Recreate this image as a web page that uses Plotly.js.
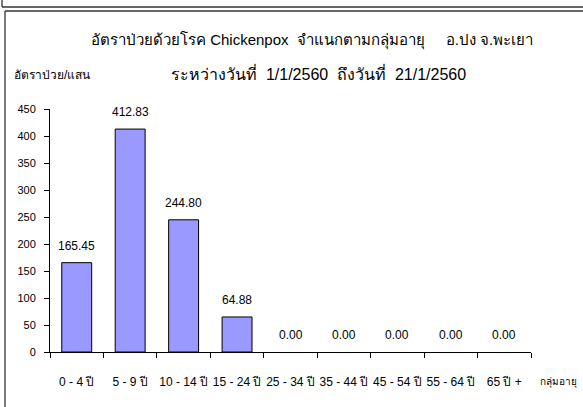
<!DOCTYPE html>
<html><head><meta charset="utf-8">
<script src="https://cdn.plot.ly/plotly-3.0.1.min.js"></script>
<style>body{margin:0;padding:0;background:#fff}#chart{width:583px;height:407px}</style>
</head><body><div id="chart"></div>
<script>
const categories = ["0 - 4 ปี","5 - 9 ปี","10 - 14 ปี","15 - 24 ปี","25 - 34 ปี","35 - 44 ปี","45 - 54 ปี","55 - 64 ปี","65 ปี +"];
const rates = [165.45, 412.83, 244.80, 64.88, 0, 0, 0, 0, 0];
const titleLine1 = "อัตราป่วยด้วยโรค Chickenpox  จำแนกตามกลุ่มอายุ     อ.ปง จ.พะเยา";
const titleLine2 = "ระหว่างวันที่  1/1/2560  ถึงวันที่  21/1/2560";
const yTitle = "อัตราป่วย/แสน";
const xTitle = "กลุ่มอายุ";
const yTicks = [0,50,100,150,200,250,300,350,400,450];

const W=583,H=407,L=50,R=52,T=109,B=55;
const pw=W-L-R, ph=H-T-B;
const px = x => (x-L)/pw;
const py = y => (H-B-y)/ph;
const FONT = "'Liberation Sans', Arial, sans-serif";

const annotations = categories.map((c,i)=>({
  x:c, y:rates[i], xref:'x', yref:'y', text:rates[i].toFixed(2),
  showarrow:false, yanchor:'middle', yshift:17, font:{size:12,color:'#000',family:FONT}
}));
annotations.push({x:px(312),y:py(40),xref:'paper',yref:'paper',text:titleLine1,showarrow:false,xanchor:'center',yanchor:'middle',font:{size:15,color:'#000',family:FONT}});
annotations.push({x:px(318),y:py(73),xref:'paper',yref:'paper',text:titleLine2,showarrow:false,xanchor:'center',yanchor:'middle',font:{size:16,color:'#000',family:FONT}});
annotations.push({x:px(12),y:py(75),xref:'paper',yref:'paper',text:yTitle,showarrow:false,xanchor:'left',yanchor:'middle',font:{size:12,color:'#000',family:FONT}});
annotations.push({x:px(538),y:py(382),xref:'paper',yref:'paper',text:xTitle,showarrow:false,xanchor:'left',yanchor:'middle',font:{size:10,color:'#000',family:FONT}});

const lineStyle={color:'#333',width:1.3};
const shapes=[
  {type:'line',xref:'paper',yref:'paper',x0:px(2),x1:px(2),y0:py(0),y1:py(7),line:lineStyle},
  {type:'line',xref:'paper',yref:'paper',x0:px(2),x1:px(590),y0:py(7),y1:py(7),line:lineStyle},
  {type:'line',xref:'paper',yref:'paper',x0:px(5),x1:px(590),y0:py(11),y1:py(11),line:lineStyle},
  {type:'line',xref:'paper',yref:'paper',x0:px(5),x1:px(5),y0:py(11),y1:py(410),line:lineStyle}
];

Plotly.newPlot('chart',[{
  type:'bar', x:categories, y:rates,
  marker:{color:'#9999FF', line:{color:'#000',width:rates.map(v=>v>0?1:0)}},
  hoverinfo:'none'
}],{
  width:W,height:H,margin:{l:L,r:R,t:T,b:B},
  paper_bgcolor:'#fff',plot_bgcolor:'#fff',
  bargap:0.44, showlegend:false,
  font:{family:FONT,color:'#000'},
  xaxis:{type:'category',showline:true,linecolor:'#000',linewidth:1,ticks:'outside',tickson:'boundaries',ticklen:5,tickcolor:'#000',tickangle:0,tickfont:{size:12,family:FONT,color:'#000'},ticklabelstandoff:19,showgrid:false,zeroline:false,fixedrange:true},
  yaxis:{range:[0,450],tickvals:yTicks,showline:true,linecolor:'#000',linewidth:1,ticks:'outside',ticklen:5,tickcolor:'#000',tickfont:{size:11,family:FONT,color:'#000'},ticklabelstandoff:6,showgrid:false,zeroline:false,fixedrange:true},
  annotations:annotations, shapes:shapes
},{staticPlot:true,displayModeBar:false});
</script></body></html>
